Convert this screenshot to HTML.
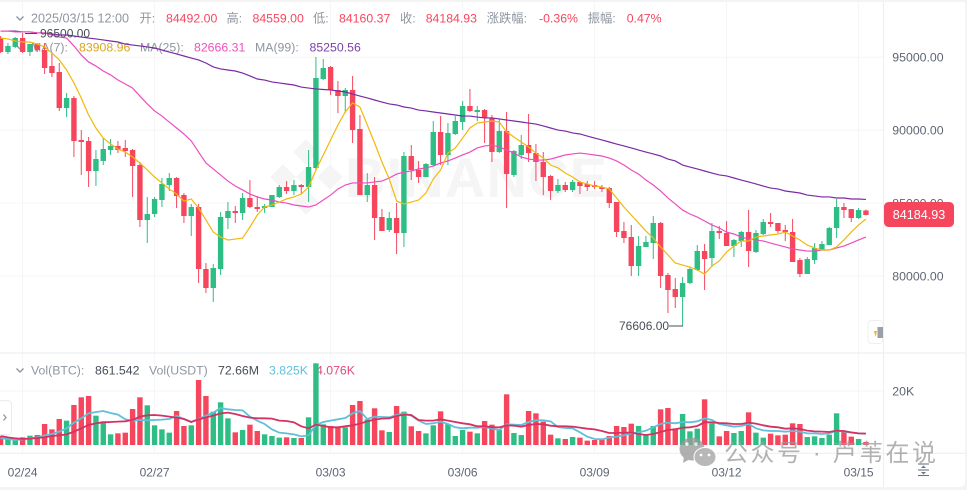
<!DOCTYPE html>
<html lang="zh">
<head>
<meta charset="utf-8">
<title>BTC/USDT 4h candlestick chart</title>
<style>
html,body{margin:0;padding:0;background:#f4f4f5;width:967px;height:490px;overflow:hidden}
svg{display:block;font-family:"Liberation Sans","Noto Sans CJK SC",sans-serif}
</style>
</head>
<body>
<svg id="chart" xmlns="http://www.w3.org/2000/svg" width="967" height="490" viewBox="0 0 967 490">
  <path d="M0 2H965V481Q965 487 959 487H0Z" fill="#ffffff"/>
  <g id="grid"></g>
  <line x1="0" y1="353" x2="965" y2="353" stroke="#eeeff1" stroke-width="1.2"/>
  <line x1="0" y1="453.3" x2="965" y2="453.3" stroke="#eeeff1" stroke-width="1.2"/>
  <line x1="883.5" y1="2" x2="883.5" y2="487" stroke="#eeeff1" stroke-width="1.2"/>

  <g fill="#f5f5f5">
    <rect x="297" y="143" width="18" height="18" transform="rotate(45 306 152)"/>
    <rect x="274" y="168" width="18" height="18" transform="rotate(45 283 177)"/>
    <rect x="299" y="170" width="14" height="14" transform="rotate(45 306 177)"/>
    <rect x="321" y="168" width="18" height="18" transform="rotate(45 330 177)"/>
    <rect x="297" y="193" width="18" height="18" transform="rotate(45 306 202)"/>
    <text x="345" y="197" font-size="56" font-weight="700" textLength="262" lengthAdjust="spacing">BINANCE</text>
  </g>

  <g font-size="12.3" fill="#8f96a1">
    <path d="M16.5 16.5L20 20L23.5 16.5" fill="none" stroke="#8f96a1" stroke-width="1.4"/>
    <text x="31" y="22.5" font-size="12.6">2025/03/15 12:00</text>
    <text x="139.5" y="22.5">开:</text>
    <text x="166" y="22.5" fill="#f6465d">84492.00</text>
    <text x="226.5" y="22.5">高:</text>
    <text x="252.5" y="22.5" fill="#f6465d">84559.00</text>
    <text x="313" y="22.5">低:</text>
    <text x="339" y="22.5" fill="#f6465d">84160.37</text>
    <text x="400" y="22.5">收:</text>
    <text x="425.7" y="22.5" fill="#f6465d">84184.93</text>
    <text x="486.7" y="22.5">涨跌幅:</text>
    <text x="539" y="22.5" fill="#f6465d">-0.36%</text>
    <text x="587.7" y="22.5">振幅:</text>
    <text x="626.7" y="22.5" fill="#f6465d">0.47%</text>
    <path d="M16.5 45.5L20 49L23.5 45.5" fill="none" stroke="#8f96a1" stroke-width="1.4"/>
    <text x="31" y="51.5">MA(7):</text>
    <text x="79" y="51.5" fill="#d9a520">83908.96</text>
    <text x="140" y="51.5">MA(25):</text>
    <text x="194" y="51.5" fill="#ec4fc0">82666.31</text>
    <text x="255" y="51.5">MA(99):</text>
    <text x="309.5" y="51.5" fill="#7b3fa8">85250.56</text>
  </g>

  <g font-size="12.3" fill="#8f96a1">
    <path d="M16.5 368.5L20 372L23.5 368.5" fill="none" stroke="#8f96a1" stroke-width="1.4"/>
    <text x="31" y="374.5">Vol(BTC):</text>
    <text x="95" y="374.5" fill="#474d57">861.542</text>
    <text x="149" y="374.5">Vol(USDT)</text>
    <text x="218" y="374.5" fill="#474d57">72.66M</text>
    <text x="269" y="374.5" fill="#5fc0da">3.825K</text>
    <text x="316" y="374.5" fill="#e24a7a">4.076K</text>
  </g>

  <g id="volume"></g>
  <g id="candles"></g>
  <g id="lines"></g>
  <g id="axes"></g>

  <g>
    <line x1="25" y1="33.5" x2="37" y2="33.5" stroke="#474d57" stroke-width="1"/>
    <text x="40" y="37.5" font-size="12" fill="#474d57">96500.00</text>
  </g>
  <g>
    <text x="619" y="330" font-size="12" fill="#474d57">76606.00</text>
    <line x1="669" y1="326" x2="683" y2="326" stroke="#474d57" stroke-width="1"/>
  </g>

  <g>
    <rect x="884" y="202" width="70" height="25" rx="4.5" fill="#f6465d"/>
    <text x="919" y="219" font-size="12.6" text-anchor="middle" fill="#ffffff">84184.93</text>
  </g>

  <g>
    <rect x="-5" y="400.7" width="16.5" height="34" rx="3" fill="#ffffff" stroke="#e8eaec"/>
    <path d="M3.5 414.5L6 417.5L3.5 420.5" fill="none" stroke="#8f96a1" stroke-width="1.3"/>
  </g>
  <g>
    <rect x="868" y="320.5" width="15" height="23" rx="3.5" fill="#ffffff" stroke="#eeeff1"/>
    <path d="M874 331H877L875.5 337Z" fill="#f0b90b"/>
    <rect x="877.5" y="327" width="5.5" height="11" fill="#9aa0a8"/>
  </g>
  <g stroke="#6b7480" stroke-width="1.1" fill="#6b7480">
    <line x1="918" y1="464" x2="929" y2="464"/>
    <line x1="918" y1="475.5" x2="929" y2="475.5"/>
    <line x1="918" y1="470" x2="929" y2="470"/>
    <path d="M923.5 465.5L926 468H921Z" stroke="none"/>
    <path d="M923.5 474.5L926 472H921Z" stroke="none"/>
  </g>

  <g opacity="0.78">
    <ellipse cx="692" cy="449" rx="12.5" ry="11.5" fill="#9a9a9a"/>
    <path d="M684 456L683 463L690 459Z" fill="#9a9a9a"/>
    <ellipse cx="705" cy="457" rx="11" ry="9.5" fill="#a5a5a5" stroke="#ffffff"/>
    <circle cx="687" cy="444" r="1.7" fill="#ffffff"/>
    <circle cx="696" cy="444" r="1.7" fill="#ffffff"/>
    <circle cx="701" cy="455" r="1.4" fill="#ffffff"/>
    <circle cx="709" cy="455" r="1.4" fill="#ffffff"/>
    <text x="724" y="461" font-size="24" fill="#9d9d9d" textLength="212" lengthAdjust="spacing">公众号 · 芦苇在说</text>
  </g>
</svg>
<script>
const priceTicks = [95000, 90000, 85000, 80000];
const priceTickLabels = ["95000.00", "90000.00", "85000.00", "80000.00"];
const volumeTicks = [20000];
const volumeTickLabels = ["20K"];
const dateTickIndexes = [3, 21, 45, 63, 81, 99, 117];
const dateTickLabels = ["02/24", "02/27", "03/03", "03/06", "03/09", "03/12", "03/15"];

const opens = [96324,95364,95707,96324,95364,95913,95501,94403,93992,91522,
92208,89327,89258,87200,87886,88641,88915,88778,88641,87612,
83839,84251,85211,86240,86720,85554,84113,84731,80478,79174,
80478,83976,84456,84319,85348,84731,84662,84731,85417,86103,
85828,86240,86103,87406,93511,94335,92757,92345,92757,90082,
85554,86240,84045,83153,83976,82947,88229,87269,86789,87612,
89876,88298,89739,90562,91659,91248,91385,90836,88504,89944,
86926,88298,88984,88435,87818,86858,85828,86240,85897,86446,
86309,86240,86103,86034,85074,83084,82673,80683,81987,82261,
83633,80066,79105,78557,79517,80409,81713,81232,83084,82947,
82055,82398,83016,81644,82878,83701,83633,83153,83016,81095,
80135,81095,81781,82124,83290,84731,84593,83976,84492];
const highs = [96461,95981,96393,96667,95913,95981,95981,95295,94609,92551,
92345,90013,89533,88641,89464,89396,89258,89327,88710,87818,
85417,85417,86720,87063,86789,85691,84937,84937,80889,80821,
84388,85074,84800,85691,86583,85485,84937,85554,86240,86514,
86583,86309,88641,95021,94884,94403,93374,92894,93717,91042,
87063,86789,84593,84388,85005,88504,88984,87886,87749,90630,
90973,90493,90973,92002,92826,91659,91453,91042,90767,91248,
88641,89670,91111,89053,88504,86926,86651,86446,86583,86514,
86514,86514,86240,86103,85074,83701,83496,82741,82741,84113,
83701,80203,79860,79928,80615,82124,82193,83633,83427,83770,
82535,83084,84525,83153,83907,84319,83633,83496,83907,81232,
81300,82261,82398,83359,85280,85005,84593,84662,84559];
const lows = [95295,95227,95638,95295,95089,95364,93855,93649,91316,90905,
88161,86926,86103,86171,87612,88298,88435,88161,85417,83359,
82261,84045,84731,85828,84662,83633,82741,79517,78831,78214,
80066,83222,83633,83839,84662,84388,84319,84731,85348,85623,
85554,85623,85074,87269,93443,92414,91179,91179,89121,85554,
85074,82467,83084,83016,81507,81987,86583,86377,86789,87543,
87612,87612,89670,90013,91248,90630,89121,87818,88435,84662,
86789,88023,87818,86514,85554,85211,85691,85760,85760,85623,
85828,85966,85760,84662,82673,82261,79997,79997,81987,81163,
79174,77459,77802,76606,79448,80340,79037,80615,82535,82055,
81300,81987,80615,81575,82810,83359,82947,82398,80958,79928,
80135,80821,81781,82124,82604,83976,83701,83907,84160];
const closes = [95364,95775,96324,95364,95913,95501,94266,93923,91522,92208,
89258,89190,87200,88023,88710,88915,88641,88573,87543,83839,
84251,85280,86309,86720,85485,84113,84731,80478,79174,80546,
84045,84456,84319,85348,84731,84593,84800,85554,86103,85828,
86240,86103,87475,93580,94266,92757,92345,92757,90013,85554,
86240,83976,83084,83976,82947,88229,87269,86789,87681,89876,
88298,89807,90630,91659,91316,91385,90836,88504,89944,86994,
88573,88984,88435,87818,86789,85828,86240,85897,86446,86171,
86103,86103,85966,85005,83016,82604,80683,82055,82330,83633,
79997,79037,78557,79517,80478,81713,81163,83084,82947,82055,
82467,83016,81713,82947,83701,83564,83084,83016,80958,80135,
81163,81918,82193,83290,84731,84525,83976,84525,84184];

const ma7 = [96320,96260,96120,96050,96050,95910,95710,95300,94820,94130,
93240,92210,91040,90150,89460,89050,88710,88500,88160,87750,
87270,86790,86380,85970,85620,85140,85280,84660,83840,83010,
82670,82470,82530,82600,83360,84180,84730,84870,85070,85280,
85420,85620,86100,87270,88300,89330,90360,91250,91870,91590,
90360,89120,87820,86650,85140,84940,85070,85210,85690,86650,
87270,88430,88780,89460,90150,90490,90560,90630,90560,89880,
89530,89190,88850,88430,88090,87610,87410,87060,86790,86450,
86310,86170,86100,85970,85350,84730,84180,83630,83080,82600,
81990,81440,80890,80750,80610,80410,80130,80680,81030,81640,
82050,82400,82400,82670,82740,82810,82880,83010,82740,82470,
82120,81920,81780,81780,81990,82470,83010,83500,83908];
const ma25 = [96800,96800,96740,96740,96740,96670,96670,96530,96390,96320,
95780,95160,94680,94400,94060,93790,93440,93170,92890,92340,
91800,91320,90970,90560,90150,89740,89260,88500,87750,87340,
86930,86510,86170,85900,85620,85420,85280,85210,85070,85000,
84870,84800,84730,84870,85210,85550,85970,86240,86380,86380,
86380,86450,86510,86720,86990,87130,87200,87340,87410,87540,
87750,87890,88090,88300,88500,88780,88920,88980,88850,88640,
88430,88160,88020,87950,87950,88020,88160,88300,88370,88430,
88370,88300,88230,88090,87890,87610,87270,86990,86580,86240,
85830,85350,84940,84520,84250,84040,83770,83500,83290,83010,
82880,82670,82530,82470,82400,82260,82120,81990,81850,81780,
81710,81710,81780,81780,81920,82050,82260,82470,82666];
const ma99 = [96800,96800,96800,96740,96740,96670,96670,96600,96530,96530,
96460,96390,96320,96260,96190,96120,96050,95910,95840,95780,
95710,95640,95500,95360,95230,95090,94950,94820,94610,94340,
94200,94130,94060,93920,93720,93510,93440,93310,93240,93170,
93100,92960,92890,92830,92790,92760,92690,92620,92480,92340,
92210,92070,91930,91800,91730,91590,91520,91380,91320,91250,
91180,91110,91040,90970,90970,90900,90840,90840,90770,90700,
90630,90560,90490,90420,90290,90150,90010,89940,89810,89740,
89600,89460,89330,89190,89050,88920,88780,88640,88500,88370,
88230,88020,87890,87610,87470,87340,87200,87060,86930,86860,
86720,86580,86450,86310,86170,86030,85970,85830,85760,85690,
85550,85490,85420,85420,85350,85350,85280,85280,85250];

const volumes = [3330,2840,2100,2840,3460,3700,7780,5800,9630,9020,
14820,17660,18150,10870,8770,3950,4320,4570,13340,17660,
14700,7290,5800,4570,12600,7040,7290,24080,18150,12350,
15810,9880,4690,5560,7530,5190,3950,3330,2720,2840,
2590,2590,10250,30260,7660,7040,6420,6550,14820,16300,
9510,13590,5430,4820,14450,12350,6920,5190,4320,7290,
12470,7780,3330,5560,4940,4320,8890,7530,5560,18770,
4450,3700,12600,11730,8650,3830,2470,2220,2960,2720,
1610,1850,1980,3330,7040,6670,7900,7040,3700,7040,
13210,13710,6180,11490,5060,6050,16920,8030,3210,5190,
4450,5190,12100,4570,2720,4200,3580,3830,8030,7780,
2960,3210,2590,3830,11730,4820,3090,2220,1110];
const volMa5 = [2470,2220,1850,2100,2470,2840,3580,4080,4940,6180,
8270,9880,11730,12230,12600,11860,11240,9510,9020,9260,
9140,9260,9390,9630,10750,9630,8520,9630,10870,11980,
13710,13210,12970,12840,10500,9020,7780,5800,4570,4320,
3950,3210,3580,7410,8520,9020,9510,10000,11730,12600,
9630,10500,10370,10250,11120,11730,10870,9020,7780,8030,
8650,7780,6550,6180,6420,6420,6670,6050,5560,7660,
7530,7410,8520,9140,9140,8770,6670,6300,6180,4690,
3090,2220,2100,2720,3090,3580,4320,4690,5310,6550,
7780,8270,8030,8520,8400,8770,9880,9260,7780,7290,
6790,7040,7780,6180,5430,5190,5190,4940,5190,4940,
4320,4320,4080,4320,5310,4940,4570,4320,4200];
const volMa10 = [3330,2840,2470,2220,2350,2590,2840,3330,3580,3950,
4940,6180,7410,8030,8400,8520,8650,8770,9260,10500,
10990,11120,10870,10500,10130,9630,8520,9510,10250,10870,
11730,11980,11490,10740,10130,9880,9880,9760,9020,8890,
8400,6920,6180,7530,7040,6550,6550,6920,7290,7900,
8770,9390,9760,9880,10740,11240,11120,9260,9020,9020,
9510,9020,8520,8030,7660,6920,6920,6550,6550,7290,
7160,6790,7410,7780,7660,7160,6920,6920,6790,6420,
6050,5800,5190,4450,4450,4570,4570,4080,3700,4080,
4820,5560,5800,6420,6550,7040,8400,8400,8150,8030,
7780,7780,8270,7900,7290,6790,6550,6050,6180,5930,
5310,5060,4940,4820,5310,5190,4690,4320,4200];

const SVG_NS = "http://www.w3.org/2000/svg";
const UP_COLOR = "#2ebd85";
const DOWN_COLOR = "#f6465d";
const xAt = function (i) { return 0.6 + i * 7.3333; };
const priceY = function (p) { return 57.3 + (95000 - p) * 0.014578; };
const volumeY = function (v) { return 445 - v * 54 / 20000; };
const make = function (tag, props, parent) {
  const node = document.createElementNS(SVG_NS, tag);
  for (const key in props) node.setAttribute(key, props[key]);
  parent.appendChild(node);
  return node;
};

const gridGroup = document.getElementById("grid");
const axesGroup = document.getElementById("axes");
const candleGroup = document.getElementById("candles");
const volumeGroup = document.getElementById("volume");
const lineGroup = document.getElementById("lines");

priceTicks.forEach(function (tick, i) {
  const y = priceY(tick);
  const gridLine = make("line", {x1: 0, x2: 883, y1: y, y2: y, stroke: "#f6f6f7", "stroke-width": 1}, gridGroup);
  
  
  const label = make("text", {x: 892.3, y: y + 4.3, "font-size": 12.3, fill: "#5e6673"}, axesGroup);
  
  
  label.textContent = priceTickLabels[i];
});
volumeTicks.forEach(function (tick, i) {
  const y = volumeY(tick);
  const gridLine = make("line", {x1: 0, x2: 883, y1: y, y2: y, stroke: "#f6f6f7", "stroke-width": 1}, gridGroup);
  
  
  const label = make("text", {x: 892.3, y: y + 4.3, "font-size": 12.3, fill: "#5e6673"}, axesGroup);
  
  
  label.textContent = volumeTickLabels[i];
});
dateTickIndexes.forEach(function (index, i) {
  const x = xAt(index);
  const gridLine = make("line", {x1: x, x2: x, y1: 2, y2: 453, stroke: "#f6f6f7", "stroke-width": 1}, gridGroup);
  
  
  const label = make("text", {x: x, y: 476.3, "font-size": 12, fill: "#5e6673", "text-anchor": "middle"}, axesGroup);
  
  
  label.textContent = dateTickLabels[i];
});

volumes.forEach(function (value, i) {
  const color = closes[i] >= opens[i] ? UP_COLOR : DOWN_COLOR;
  const top = volumeY(value);
  const bar = make("rect", {x: xAt(i) - 2.7, y: top, width: 5.4, height: 445 - top, fill: color}, volumeGroup);
  
  
});

opens.forEach(function (open, i) {
  const close = closes[i];
  const color = close >= open ? UP_COLOR : DOWN_COLOR;
  const x = xAt(i);
  const wick = make("line", {x1: x, x2: x, y1: priceY(highs[i]), y2: priceY(lows[i]), stroke: color, "stroke-width": 1}, candleGroup);
  
  
  const bodyTop = priceY(Math.max(open, close));
  const bodyBottom = priceY(Math.min(open, close));
  const body = make("rect", {x: x - 2.7, y: bodyTop, width: 5.4, height: Math.max(1, bodyBottom - bodyTop), fill: color}, candleGroup);
  
  
});

const pathFrom = function (values, yFn) {
  return values.map(function (v, i) {
    return (i ? "L" : "M") + xAt(i).toFixed(2) + " " + yFn(v).toFixed(2);
  }).join("");
};

const ma99Line = make("path", {d: pathFrom(ma99, priceY), fill: "none", stroke: "#7b2aa6", "stroke-width": 1.2}, lineGroup);


const ma25Line = make("path", {d: pathFrom(ma25, priceY), fill: "none", stroke: "#ee4dbe", "stroke-width": 1.2}, lineGroup);


const ma7Line = make("path", {d: pathFrom(ma7, priceY), fill: "none", stroke: "#f0b90b", "stroke-width": 1.2}, lineGroup);


const volMa5Line = make("path", {d: pathFrom(volMa5, volumeY), fill: "none", stroke: "#5fc0da", "stroke-width": 1.8}, lineGroup);


const volMa10Line = make("path", {d: pathFrom(volMa10, volumeY), fill: "none", stroke: "#d43263", "stroke-width": 1.8}, lineGroup);


</script>
</body>
</html>
